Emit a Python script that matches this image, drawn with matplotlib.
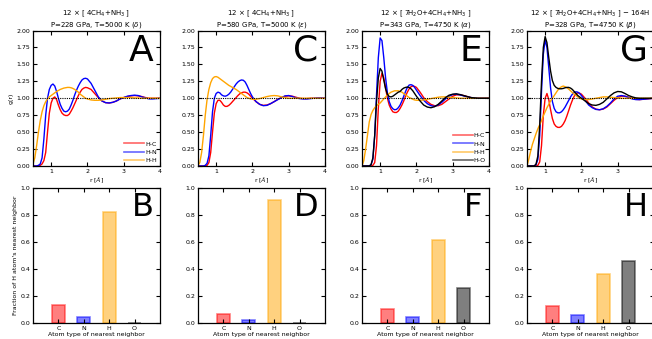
import matplotlib
matplotlib.use("Agg")
import matplotlib.pyplot as plt
import numpy as np

# sampling positions (r in Angstrom)
r = [0.5, 0.55, 0.6, 0.65, 0.7, 0.75, 0.8, 0.85, 0.9, 0.95, 1.0,
     1.05, 1.1, 1.15, 1.2, 1.25, 1.3, 1.35, 1.4, 1.45, 1.5,
     1.55, 1.6, 1.65, 1.7, 1.75, 1.8, 1.85, 1.9, 1.95, 2.0,
     2.1, 2.2, 2.3, 2.4, 2.5, 2.6, 2.7, 2.8, 2.9, 3.0,
     3.1, 3.2, 3.3, 3.4, 3.5, 3.6, 3.7, 3.8, 3.9, 4.0]

# panel A
A_HC = [0, 0, 0, 0, 0.01, 0.03, 0.08, 0.20, 0.50, 0.78, 0.93,
        1.00, 1.02, 0.98, 0.90, 0.83, 0.78, 0.755, 0.745, 0.745, 0.765,
        0.81, 0.86, 0.92, 0.98, 1.04, 1.09, 1.13, 1.15, 1.16, 1.155,
        1.13, 1.07, 1.01, 0.96, 0.935, 0.93, 0.94, 0.96, 0.99, 1.01,
        1.025, 1.035, 1.04, 1.035, 1.025, 1.01, 1.0, 1.0, 1.0, 1.0]
A_HN = [0, 0, 0, 0.01, 0.03, 0.12, 0.40, 0.75, 1.00, 1.13, 1.19,
        1.21, 1.18, 1.10, 1.00, 0.91, 0.85, 0.81, 0.80, 0.81, 0.84,
        0.90, 0.97, 1.05, 1.12, 1.18, 1.23, 1.27, 1.29, 1.295, 1.285,
        1.22, 1.12, 1.02, 0.96, 0.935, 0.93, 0.94, 0.96, 0.99, 1.01,
        1.03, 1.04, 1.045, 1.04, 1.02, 1.005, 0.99, 0.99, 0.995, 1.0]
A_HH = [0.03, 0.12, 0.30, 0.50, 0.67, 0.80, 0.89, 0.95, 0.99, 1.02, 1.04,
        1.06, 1.08, 1.10, 1.115, 1.13, 1.14, 1.15, 1.155, 1.16, 1.16,
        1.155, 1.145, 1.13, 1.11, 1.09, 1.06, 1.04, 1.02, 1.0, 0.99,
        0.975, 0.97, 0.97, 0.975, 0.985, 0.995, 1.0, 1.005, 1.01, 1.01,
        1.01, 1.01, 1.005, 1.005, 1.0, 1.0, 1.0, 1.0, 1.0, 1.0]

# panel C
C_HC = [0, 0, 0, 0, 0, 0.01, 0.05, 0.20, 0.50, 0.78, 0.92,
        0.97, 0.97, 0.94, 0.90, 0.88, 0.88, 0.895, 0.92, 0.95, 0.98,
        1.01, 1.04, 1.065, 1.08, 1.09, 1.09, 1.08, 1.06, 1.03, 1.0,
        0.95, 0.91, 0.895, 0.90, 0.92, 0.95, 0.985, 1.01, 1.03, 1.035,
        1.03, 1.015, 1.0, 0.995, 0.995, 1.0, 1.0, 1.005, 1.005, 1.0]
C_HN = [0, 0, 0, 0, 0.01, 0.04, 0.15, 0.45, 0.80, 1.00, 1.07,
        1.09, 1.08, 1.05, 1.035, 1.03, 1.04, 1.06, 1.09, 1.13, 1.17,
        1.21, 1.24, 1.26, 1.27, 1.265, 1.24, 1.19, 1.13, 1.07, 1.02,
        0.95, 0.91, 0.89, 0.895, 0.92, 0.95, 0.98, 1.01, 1.035, 1.04,
        1.025, 1.005, 0.995, 0.99, 0.99, 0.995, 1.0, 1.005, 1.005, 1.0]
C_HH = [0.01, 0.05, 0.20, 0.45, 0.75, 0.98, 1.13, 1.23, 1.29, 1.315, 1.32,
        1.31, 1.29, 1.27, 1.25, 1.23, 1.21, 1.19, 1.175, 1.16, 1.145,
        1.13, 1.11, 1.09, 1.07, 1.05, 1.03, 1.01, 1.0, 0.99, 0.985,
        0.985, 0.995, 1.01, 1.025, 1.035, 1.04, 1.035, 1.02, 1.01, 1.0,
        1.0, 1.0, 1.0, 1.0, 1.0, 1.0, 1.0, 1.0, 1.0, 1.0]

# panel E
E_HC = [0, 0, 0, 0, 0, 0, 0.01, 0.05, 0.30, 0.85, 1.25,
        1.37, 1.30, 1.15, 1.00, 0.90, 0.84, 0.80, 0.79, 0.79, 0.81,
        0.85, 0.90, 0.96, 1.03, 1.09, 1.14, 1.17, 1.18, 1.175, 1.16,
        1.09, 1.01, 0.95, 0.91, 0.89, 0.89, 0.91, 0.95, 0.99, 1.03,
        1.05, 1.05, 1.04, 1.025, 1.01, 1.0, 1.0, 1.0, 1.0, 1.0]
E_HN = [0, 0, 0, 0, 0, 0.02, 0.10, 0.45, 1.05, 1.60, 1.89,
        1.85, 1.60, 1.30, 1.08, 0.95, 0.88, 0.845, 0.83, 0.835, 0.86,
        0.90, 0.96, 1.03, 1.10, 1.16, 1.195, 1.20, 1.19, 1.16, 1.12,
        1.04, 0.97, 0.92, 0.89, 0.88, 0.90, 0.94, 0.99, 1.03, 1.055,
        1.06, 1.05, 1.035, 1.02, 1.01, 1.005, 1.0, 1.0, 1.0, 1.0]
E_HH = [0, 0.08, 0.25, 0.45, 0.65, 0.76, 0.82, 0.86, 0.89, 0.91, 0.93,
        0.96, 0.99, 1.02, 1.05, 1.07, 1.09, 1.10, 1.11, 1.11, 1.11,
        1.10, 1.09, 1.07, 1.05, 1.03, 1.01, 1.0, 0.985, 0.975, 0.97,
        0.97, 0.975, 0.985, 0.995, 1.005, 1.015, 1.02, 1.02, 1.015, 1.01,
        1.005, 1.0, 1.0, 1.0, 1.0, 1.0, 1.0, 1.0, 1.0, 1.0]
E_HO = [0, 0, 0, 0, 0, 0.02, 0.12, 0.45, 0.95, 1.30, 1.44,
        1.40, 1.27, 1.14, 1.06, 1.025, 1.02, 1.03, 1.05, 1.07, 1.09,
        1.10, 1.13, 1.15, 1.16, 1.165, 1.16, 1.14, 1.11, 1.07, 1.03,
        0.96, 0.90, 0.87, 0.86, 0.875, 0.91, 0.96, 1.01, 1.045, 1.06,
        1.065, 1.055, 1.04, 1.025, 1.01, 1.005, 1.0, 1.0, 1.0, 1.0]

# panel G
G_HC = [0, 0, 0, 0, 0, 0, 0.01, 0.06, 0.30, 0.75, 1.00,
        1.07, 0.98, 0.83, 0.70, 0.62, 0.585, 0.57, 0.57, 0.585, 0.62,
        0.67, 0.74, 0.82, 0.90, 0.97, 1.03, 1.065, 1.08, 1.075, 1.06,
        1.00, 0.93, 0.87, 0.84, 0.83, 0.84, 0.87, 0.92, 0.97, 1.01,
        1.03, 1.03, 1.015, 1.0, 0.985, 0.98, 0.985, 0.99, 0.995, 1.0]
G_HN = [0, 0, 0, 0, 0, 0.02, 0.10, 0.45, 1.10, 1.65, 1.86,
        1.75, 1.45, 1.15, 0.95, 0.85, 0.80, 0.785, 0.785, 0.80, 0.83,
        0.87, 0.92, 0.97, 1.02, 1.06, 1.085, 1.095, 1.09, 1.07, 1.04,
        0.97, 0.90, 0.86, 0.835, 0.83, 0.845, 0.88, 0.93, 0.99, 1.03,
        1.04, 1.03, 1.01, 0.99, 0.98, 0.98, 0.985, 0.99, 0.995, 1.0]
G_HH = [0, 0.10, 0.22, 0.32, 0.40, 0.48, 0.55, 0.61, 0.67, 0.74, 0.80,
        0.86, 0.91, 0.96, 1.00, 1.04, 1.08, 1.12, 1.15, 1.17, 1.18,
        1.17, 1.155, 1.135, 1.11, 1.085, 1.06, 1.04, 1.02, 1.0, 0.99,
        0.98, 0.98, 0.99, 1.0, 1.01, 1.02, 1.02, 1.015, 1.01, 1.005,
        1.0, 1.0, 1.0, 1.0, 1.0, 1.0, 1.0, 1.0, 1.0, 1.0]
G_HO = [0, 0, 0, 0, 0, 0.03, 0.15, 0.60, 1.25, 1.75, 1.91,
        1.82, 1.60, 1.40, 1.26, 1.19, 1.16, 1.145, 1.14, 1.14, 1.145,
        1.155, 1.16, 1.16, 1.15, 1.13, 1.10, 1.07, 1.04, 1.02, 1.0,
        0.96, 0.92, 0.90, 0.895, 0.91, 0.94, 0.99, 1.04, 1.08, 1.10,
        1.095, 1.07, 1.04, 1.02, 1.005, 1.0, 1.0, 1.0, 1.0, 1.0]

# nearest neighbour fractions
atoms = ["C", "N", "H", "O"]
frac_B = [0.135, 0.045, 0.82, 0.0]
frac_D = [0.07, 0.025, 0.91, 0.0]
frac_F = [0.10, 0.045, 0.61, 0.255]
frac_H = [0.125, 0.06, 0.36, 0.46]

titles = [
    "12 × [ 4CH$_4$+NH$_3$ ]\nP=228 GPa, T=5000 K ($\\delta$)",
    "12 × [ 4CH$_4$+NH$_3$ ]\nP=580 GPa, T=5000 K ($\\epsilon$)",
    "12 × [ 7H$_2$O+4CH$_4$+NH$_3$ ]\nP=343 GPa, T=4750 K ($\\alpha$)",
    "12 × [ 7H$_2$O+4CH$_4$+NH$_3$ ] − 164H\nP=328 GPa, T=4750 K ($\\beta$)",
]
gr_panels = [
    [("H-C", A_HC), ("H-N", A_HN), ("H-H", A_HH)],
    [("H-C", C_HC), ("H-N", C_HN), ("H-H", C_HH)],
    [("H-C", E_HC), ("H-N", E_HN), ("H-H", E_HH), ("H-O", E_HO)],
    [("H-C", G_HC), ("H-N", G_HN), ("H-H", G_HH), ("H-O", G_HO)],
]
bar_panels = [frac_B, frac_D, frac_F, frac_H]
top_letters = ["A", "C", "E", "G"]
bot_letters = ["B", "D", "F", "H"]
colors = {"H-C": "red", "H-N": "blue", "H-H": "orange", "H-O": "black"}
bar_colors = ["red", "blue", "orange", "black"]

W, H = 652, 339
fig = plt.figure(figsize=(W / 100, H / 100), dpi=100)

lefts = [33, 198, 362, 527]
aw = 127


def style(ax):
    ax.tick_params(direction="in", top=True, right=True, labelsize=4.5,
                   length=3, width=0.8, pad=2)
    for s in ax.spines.values():
        s.set_linewidth(0.9)


for i in range(4):
    # g(r) panel
    ax = fig.add_axes([lefts[i] / W, (H - 166) / H, aw / W, 135.5 / H])
    for name, g in gr_panels[i]:
        ax.plot(r, g, color=colors[name], lw=1.0, label=name)
    ax.axhline(1.0, color="black", lw=0.8, ls=(0, (1, 1)))
    ax.set_xlim(0.5, 4)
    ax.set_ylim(0, 2)
    ax.set_xticks([1, 2, 3, 4])
    if i == 3:
        # the right edge of the last panel falls outside the picture
        ax.set_xticklabels(["1", "2", "3", ""])
    ax.set_yticks(np.arange(0, 2.01, 0.25))
    ax.yaxis.set_major_formatter(matplotlib.ticker.FormatStrFormatter("%.2f"))
    style(ax)
    ax.set_xlabel(r"r [$\AA$]", fontsize=4.5, labelpad=1)
    ax.set_title(titles[i], fontsize=5, pad=3, linespacing=1.1)
    ax.text(0.95, 0.975, top_letters[i], transform=ax.transAxes, ha="right",
            va="top", fontsize=26)
    if i == 0:
        ax.set_ylabel("g(r)", fontsize=4.5, labelpad=2)
    if i in (0, 2):
        leg = ax.legend(loc="lower right", frameon=False, fontsize=4.5,
                        handlelength=3.2, handletextpad=0.2, labelspacing=0.45,
                        borderaxespad=0.1)
        for line in leg.get_lines():
            line.set_alpha(0.6)
            line.set_linewidth(1.2)

    # bar panel
    bx = fig.add_axes([lefts[i] / W, 16 / H, aw / W, 135.5 / H])
    x = np.arange(len(atoms))
    for j in range(len(atoms)):
        bx.bar(x[j], bar_panels[i][j], width=0.5, color=bar_colors[j],
               alpha=0.5, edgecolor=bar_colors[j], linewidth=1.2)
    bx.set_xlim(-1, 4)
    bx.set_ylim(0, 1)
    bx.set_xticks(x)
    bx.set_xticklabels(atoms)
    bx.set_yticks(np.arange(0, 1.01, 0.2))
    bx.yaxis.set_major_formatter(matplotlib.ticker.FormatStrFormatter("%.1f"))
    style(bx)
    bx.set_xlabel("Atom type of nearest neighbor", fontsize=4.5, labelpad=1)
    bx.text(0.95, 0.97, bot_letters[i], transform=bx.transAxes, ha="right",
            va="top", fontsize=23)
    if i == 0:
        bx.set_ylabel("Fraction of H atom's nearest neighbor", fontsize=4.5,
                      labelpad=2)

fig.savefig("out.png", dpi=100)
